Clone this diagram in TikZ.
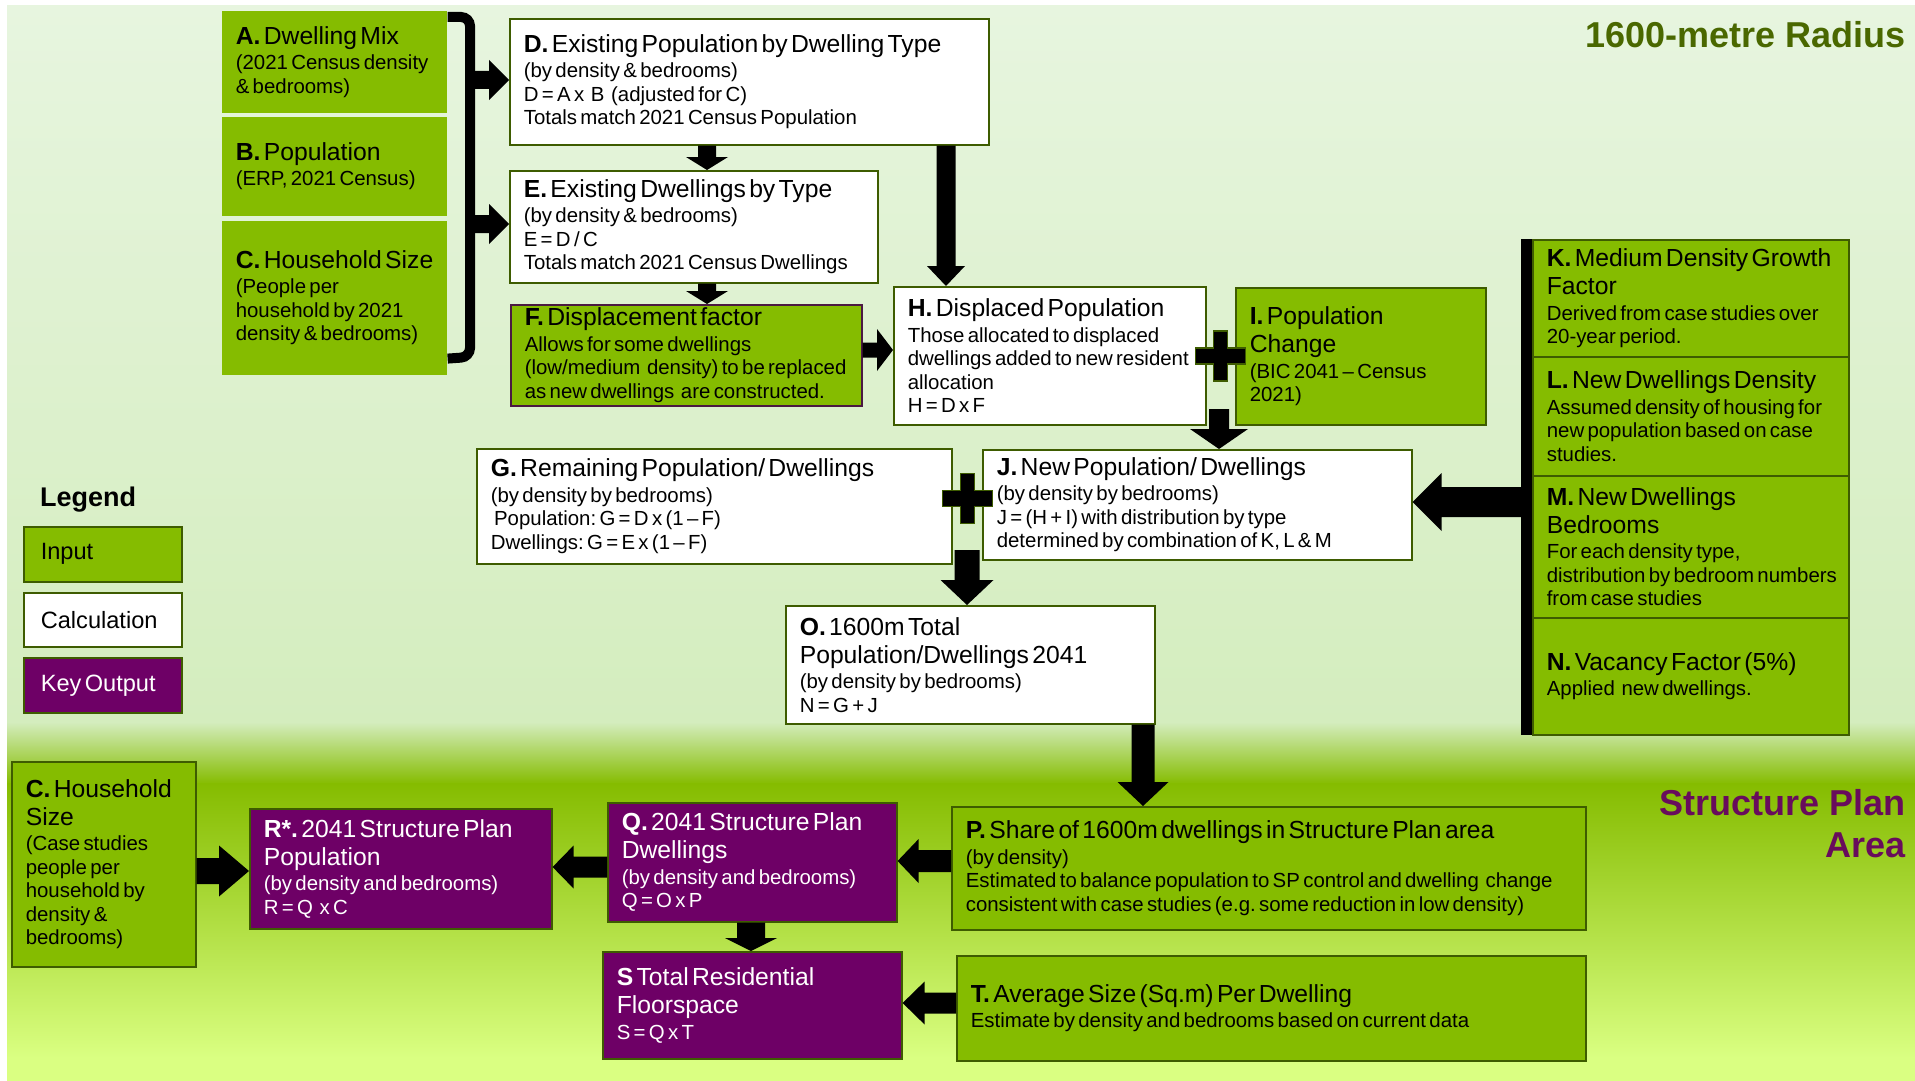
\documentclass[tikz,border=0pt]{standalone}
\usepackage{fontspec}
\setmainfont{Liberation Sans}
\usetikzlibrary{calc}
\frenchspacing
\definecolor{ingreen}{RGB}{133,188,0}
\definecolor{bordgreen}{RGB}{62,92,0}
\definecolor{outpurple}{RGB}{110,0,102}
\definecolor{fborder}{RGB}{75,25,65}
\definecolor{titlegreen}{RGB}{74,104,0}
\definecolor{sppurple}{RGB}{104,12,92}
\definecolor{bgtop}{RGB}{231,245,223}
\definecolor{bgmid}{RGB}{212,237,190}
\definecolor{bgbot}{RGB}{218,255,130}
\newcommand{\Tf}{\fontsize{24.7}{28}\selectfont}
\newcommand{\Sf}{\fontsize{20.4}{23.5}\selectfont}
\newcommand{\Ttl}[1]{{\Tf #1\par}}
\newcommand{\Lgt}[1]{{\fontsize{23.6}{28}\selectfont #1\par}}
\newcommand{\Sbt}[1]{{\Sf\vspace{2pt}#1\par}}
\newcommand{\blockarrow}[5]{%
  \coordinate (ba-s) at #1;
  \coordinate (ba-t) at #2;
  \coordinate (ba-h) at ($(ba-t)!#5!(ba-s)$);
  \fill[arrowcol] ($(ba-s)!#3!90:(ba-t)$) -- ($(ba-h)!#3!90:(ba-t)$) -- ($(ba-h)!#4!90:(ba-t)$) -- (ba-t) -- ($(ba-h)!#4!-90:(ba-t)$) -- ($(ba-h)!#3!-90:(ba-t)$) -- ($(ba-s)!#3!-90:(ba-t)$) -- cycle;}
\tikzset{
  bx/.style={rectangle, anchor=north west, align=left, inner xsep=14pt, inner ysep=0pt, line width=1.6pt, text=black},
  inp/.style={bx, fill=ingreen, draw=bordgreen},
  inpnb/.style={bx, fill=ingreen},
  calcbox/.style={bx, fill=white, draw=bordgreen},
  outp/.style={bx, fill=outpurple, draw=bordgreen, text=white},
  arrowcol/.style={fill=black},
  bigtitle/.style={anchor=base east, inner sep=0pt, font=\bfseries\fontsize{36}{40}\selectfont},
  plussign/.pic={\fill[black, draw=bordgreen, line width=1.2pt] (-25,-8) -- (-7,-8) -- (-7,-25) -- (7,-25) -- (7,-8) -- (25,-8) -- (25,8) -- (7,8) -- (7,25) -- (-7,25) -- (-7,8) -- (-25,8) -- cycle;}
}
\begin{document}
\begin{tikzpicture}[x=1pt,y=-1pt]
\useasboundingbox (0,0) rectangle (1915,1081);
% background
\fill[white] (0,0) rectangle (1915,1081);
\shade[top color=bgtop, bottom color=bgmid] (7,6) rectangle (1915,723);
\shade[top color=bgmid, bottom color=ingreen] (7,722) rectangle (1915,784);
\shade[top color=ingreen, bottom color=bgbot] (7,783) rectangle (1915,1058);
\fill[bgbot] (7,1057) rectangle (1915,1081);

% titles
\node[bigtitle, text=titlegreen] (rad) at (1906,48) {1600-metre Radius};
\node[bigtitle, text=sppurple] (sp1) at (1906,815) {Structure Plan};
\node[bigtitle, text=sppurple] (sp2) at (1906,857) {Area};

% legend
\node[anchor=base west, inner sep=0pt, font=\bfseries\fontsize{27}{30}\selectfont] (leg) at (40,506) {Legend};
\node[inp, inner xsep=17pt, minimum width=158pt, minimum height=55pt, text width=124pt] (LIn) at (23,526) {\Lgt{Input}};
\node[calcbox, inner xsep=17pt, minimum width=158pt, minimum height=54pt, text width=124pt] (LCa) at (23,592) {\Lgt{Calculation}};
\node[outp, inner xsep=17pt, minimum width=158pt, minimum height=55pt, text width=124pt] (LKo) at (23,657) {\Lgt{Key Output}};

% inputs A B C
\node[inpnb, minimum width=225pt, minimum height=102pt, text width=197pt] (A) at (221,10) {\Ttl{\mbox{\textbf{A.} Dwelling Mix}}\Sbt{\mbox{(2021 Census density}\\\mbox{\& bedrooms)}}};
\node[inpnb, minimum width=225pt, minimum height=99pt, text width=197pt] (B) at (221,116) {\Ttl{\mbox{\textbf{B.} Population}}\Sbt{\mbox{(ERP, 2021 Census)}}};
\node[inpnb, minimum width=225pt, minimum height=154pt, text width=197pt] (C) at (221,220) {\Ttl{\mbox{\textbf{C.} Household Size}}\Sbt{\mbox{(People per}\\\mbox{household by 2021}\\\mbox{density \& bedrooms)}}};

% bracket
\coordinate (brT) at (470,17);
\coordinate (brB) at (470,357);
\draw[line width=10pt, rounded corners=9pt] ([yshift=-7pt]A.north east) -- (brT) -- (brB) -- ([yshift=17pt]C.south east);

% calculation boxes
\node[calcbox, minimum width=479pt, minimum height=126pt, text width=451pt] (D) at (509,18) {\Ttl{\mbox{\textbf{D.} Existing Population by Dwelling Type}}\Sbt{\mbox{(by density \& bedrooms)}\\\mbox{D = A x\ \ B\ \ (adjusted for C)}\\\mbox{Totals match 2021 Census Population}}};
\node[calcbox, minimum width=368pt, minimum height=112pt, text width=340pt] (E) at (509,170) {\Ttl{\mbox{\textbf{E.} Existing Dwellings by Type}}\Sbt{\mbox{(by density \& bedrooms)}\\\mbox{E = D / C}\\\mbox{Totals match 2021 Census Dwellings}}};
\node[inp, draw=fborder, minimum width=351pt, minimum height=101pt, text width=323pt] (F) at (510,304) {\Ttl{\mbox{\textbf{F.} Displacement factor}}\Sbt{\mbox{Allows for some dwellings}\\\mbox{(low/medium\ \ density) to be replaced}\\\mbox{as new dwellings\ \ are constructed.}}};
\node[calcbox, minimum width=312pt, minimum height=138pt, text width=284pt] (H) at (893,286) {\Ttl{\mbox{\textbf{H.} Displaced Population}}\Sbt{\mbox{Those allocated to displaced}\\\mbox{dwellings added to new resident}\\\mbox{allocation}\\\mbox{H = D x F}}};
\node[inp, minimum width=250pt, minimum height=137pt, text width=222pt] (I) at (1235,287) {\Ttl{\mbox{\textbf{I.} Population}\\\mbox{Change}}\Sbt{\mbox{(BIC 2041 – Census}\\\mbox{2021)}}};
\node[calcbox, minimum width=475pt, minimum height=115pt, text width=447pt] (G) at (476,448) {\Ttl{\mbox{\textbf{G.} Remaining Population/ Dwellings}}\Sbt{\mbox{(by density by bedrooms)}\\\mbox{\ Population: G = D x (1 – F)}\\\mbox{Dwellings: G = E x (1 – F)}}};
\node[calcbox, minimum width=429pt, minimum height=110pt, text width=401pt] (J) at (982,449) {\Ttl{\mbox{\textbf{J.} New Population/ Dwellings}}\Sbt{\mbox{(by density by bedrooms)}\\\mbox{J = (H + I) with distribution by type}\\\mbox{determined by combination of K, L \& M}}};
\node[calcbox, minimum width=369pt, minimum height=118pt, text width=341pt] (O) at (785,605) {\Ttl{\mbox{\textbf{O.} 1600m Total}\\\mbox{Population/Dwellings 2041}}\Sbt{\mbox{(by density by bedrooms)}\\\mbox{N = G + J}}};

% K L M N
\node[inp, minimum width=316pt, minimum height=117pt, text width=288pt] (K) at (1532,239) {\Ttl{\mbox{\textbf{K.} Medium Density Growth}\\\mbox{Factor}}\Sbt{\mbox{Derived from case studies over}\\\mbox{20-year period.}}};
\node[inp, minimum width=316pt, minimum height=119pt, text width=288pt] (L) at (1532,356) {\Ttl{\mbox{\textbf{L.} New Dwellings Density}}\Sbt{\mbox{Assumed density of housing for}\\\mbox{new population based on case}\\\mbox{studies.}}};
\node[inp, minimum width=316pt, minimum height=142pt, text width=288pt] (M) at (1532,475) {\Ttl{\mbox{\textbf{M.} New Dwellings}\\\mbox{Bedrooms}}\Sbt{\mbox{For each density type,}\\\mbox{distribution by bedroom numbers}\\\mbox{from case studies}}};
\node[inp, minimum width=316pt, minimum height=117pt, text width=288pt] (N) at (1532,617) {\Ttl{\mbox{\textbf{N.} Vacancy Factor (5\%)}}\Sbt{\mbox{Applied\ \ new dwellings.}}};
\coordinate (barT) at (1526.5,239);
\coordinate (barB) at (1526.5,735);
\draw[line width=11pt] (barT) -- (barB);

% structure plan area
\node[inp, minimum width=634pt, minimum height=123pt, text width=606pt] (P) at (951,806) {\Ttl{\mbox{\textbf{P.} Share of 1600m dwellings in Structure Plan area}}\Sbt{\mbox{(by density)}\\\mbox{Estimated to balance population to SP control and dwelling\ \ change}\\\mbox{consistent with case studies (e.g. some reduction in low density)}}};
\node[inp, minimum width=629pt, minimum height=105pt, text width=601pt] (T) at (956,955) {\Ttl{\mbox{\textbf{T.} Average Size (Sq.m) Per Dwelling}}\Sbt{\mbox{Estimate by density and bedrooms based on current data}}};
\node[inp, minimum width=184pt, minimum height=205pt, text width=156pt] (C2) at (11,761) {\Ttl{\mbox{\textbf{C.} Household}\\\mbox{Size}}\Sbt{\mbox{(Case studies}\\\mbox{people per}\\\mbox{household by}\\\mbox{density \&}\\\mbox{bedrooms)}}};
\node[outp, minimum width=302pt, minimum height=120pt, text width=274pt] (R) at (249,808) {\Ttl{\mbox{\textbf{R*.} 2041 Structure Plan}\\\mbox{Population}}\Sbt{\mbox{(by density and bedrooms)}\\\mbox{R = Q\ \ x C}}};
\node[outp, minimum width=289pt, minimum height=119pt, text width=261pt] (Q) at (607,802) {\Ttl{\mbox{\textbf{Q.} 2041 Structure Plan}\\\mbox{Dwellings}}\Sbt{\mbox{(by density and bedrooms)}\\\mbox{Q = O x P}}};
\node[outp, minimum width=299pt, minimum height=107pt, text width=271pt] (S) at (602,951) {\Ttl{\mbox{\textbf{S} Total Residential}\\\mbox{Floorspace}}\Sbt{\mbox{S = Q x T}}};

% arrows
\coordinate (bD) at (470,80);
\coordinate (bE) at (470,224);
\blockarrow{(bD)}{(bD -| D.west)}{9pt}{20pt}{20pt}
\blockarrow{(bE)}{(bE -| E.west)}{9pt}{20pt}{20pt}
\coordinate (xDE) at (707,0);
\blockarrow{(D.south -| xDE)}{(E.north -| xDE)}{9pt}{21pt}{13pt}
\blockarrow{(E.south -| xDE)}{(F.north -| xDE)}{9pt}{21pt}{13pt}
\coordinate (xDH) at (946,0);
\blockarrow{(D.south -| xDH)}{(H.north -| xDH)}{9.5pt}{19pt}{20pt}
\coordinate (yFH) at (0,350);
\blockarrow{(F.east |- yFH)}{(H.west |- yFH)}{7.5pt}{21pt}{16pt}
\coordinate (hiS) at (1219,409);
\blockarrow{(hiS)}{(J.north -| hiS)}{10pt}{29pt}{20pt}
\coordinate (gjS) at (967,550);
\blockarrow{(gjS)}{(O.north -| gjS)}{12.5pt}{26.5pt}{25pt}
\coordinate (xOP) at (1143,0);
\blockarrow{(O.south -| xOP)}{(P.north -| xOP)}{11.5pt}{25.5pt}{24pt}
\coordinate (barJ) at (1524,502);
\blockarrow{(barJ)}{(J.east |- barJ)}{15pt}{29pt}{29pt}
\coordinate (yCR) at (0,871);
\blockarrow{(C2.east |- yCR)}{(R.west |- yCR)}{13pt}{25.5pt}{30pt}
\coordinate (yQR) at (0,867);
\blockarrow{(Q.west |- yQR)}{(R.east |- yQR)}{10.5pt}{21.5pt}{21pt}
\coordinate (yPQ) at (0,861);
\blockarrow{(P.west |- yPQ)}{(Q.east |- yPQ)}{11pt}{22pt}{21pt}
\coordinate (xQS) at (751,0);
\blockarrow{(Q.south -| xQS)}{(S.north -| xQS)}{14pt}{26pt}{13pt}
\coordinate (yTS) at (0,1003);
\blockarrow{(T.west |- yTS)}{(S.east |- yTS)}{10.5pt}{21.5pt}{22pt}

% plus signs
\path ($(H.east)!0.5!(I.west)$) pic {plussign};
\path ($(G.east)!0.5!(J.west)+(0,-7)$) pic {plussign};
\end{tikzpicture}
\end{document}
